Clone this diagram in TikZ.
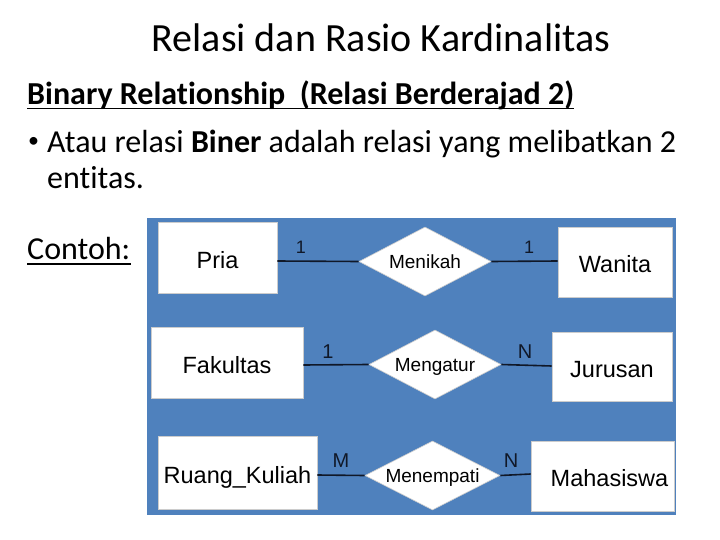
\documentclass[tikz,border=0pt]{standalone}
\usepackage{fontspec}
\setmainfont[Ligatures=NoCommon]{Carlito}
\newfontfamily\arialf{Liberation Sans}
\usetikzlibrary{shapes.geometric}
\definecolor{panel}{HTML}{4F81BD}
\definecolor{linkc}{HTML}{101828}
\tikzset{
  ent/.style={draw=gray!40, line width=0.6pt, fill=white, inner sep=0pt, text height=21.5pt, text depth=0pt, font=\arialf\fontsize{23.5}{26}\selectfont},
  rel/.style={diamond, draw=gray!40, line width=0.6pt, fill=white, inner sep=0pt, aspect=1.9, text height=14.5pt, text depth=0pt, font=\arialf\fontsize{19}{22}\selectfont},
  link/.style={draw=linkc, line width=1.6pt},
  card/.style={font=\arialf\fontsize{20}{22}\selectfont, text=linkc, inner sep=0pt},
  txt/.style={inner sep=0pt, anchor=base west},
  body/.style={txt, font=\fontsize{32}{36}\selectfont},
}
\begin{document}
\begin{tikzpicture}[x=1pt,y=-1pt]
\useasboundingbox (0,0) rectangle (720,540);
% title and text
\node[inner sep=0pt, anchor=base, font=\fontsize{40}{44}\selectfont] (title) at (381,52) {Relasi dan Rasio Kardinalitas};
\node[txt, font=\bfseries\fontsize{32}{36}\selectfont] (head) at (27,105) {Binary Relationship\ \ (Relasi Berderajad 2)};
\draw[line width=1.6pt] ([yshift=-3.5pt]head.base west) -- ([yshift=-3.5pt]head.base east);
\node[txt, font=\fontsize{22}{26}\selectfont] (bul) at (28,148) {•};
\node[body] (line1) at (47,153) {Atau relasi \textbf{Biner} adalah relasi yang melibatkan 2};
\node[body] (line2) at (47,189) {entitas.};
\node[body] (contoh) at (27,259) {Contoh:};
\draw[line width=1.4pt] ([yshift=-5pt]contoh.base west) -- ([yshift=-5pt]contoh.base east);
% panel
\fill[panel] (147,218) rectangle (676,515);
% row 1
\node[ent, minimum width=119pt, minimum height=71pt] (pria) at (217.5,257.5) {Pria};
\node[rel, minimum width=132pt, minimum height=69pt] (menikah) at (425,261.5) {Menikah};
\node[ent, minimum width=114pt, minimum height=70pt] (wanita) at (615,262) {Wanita};
\draw[link] (pria.east |- 0,261) -- (menikah.west);
\draw[link] (menikah.east) -- (wanita.west |- 0,261);
\node[card, font=\arialf\fontsize{18}{20}\selectfont] (c1a) at (301,247) {1};
\node[card, font=\arialf\fontsize{18}{20}\selectfont] (c1b) at (529,247) {1};
% row 2
\node[ent, minimum width=152pt, minimum height=71pt] (fak) at (227,362.5) {Fakultas};
\node[rel, minimum width=132pt, minimum height=69pt] (mengatur) at (435,364.5) {Mengatur};
\node[ent, minimum width=120pt, minimum height=69pt] (jur) at (612,366.5) {Jurusan};
\draw[link] (fak.east |- 0,365) -- (mengatur.west);
\draw[link] (mengatur.east) -- (jur.west |- 0,366);
\node[card] (c2a) at (328,352) {1};
\node[card] (c2b) at (525,352) {N};
% row 3
\node[ent, minimum width=159pt, minimum height=73pt] (ruang) at (237.5,472.5) {Ruang\_Kuliah};
\node[rel, minimum width=135pt, minimum height=69pt] (menempati) at (432.5,475.5) {Menempati};
\node[ent, minimum width=143pt, minimum height=70pt] (maha) at (602.5,476) {\hspace*{14pt}Mahasiswa};
\draw[link] (ruang.east |- 0,475) -- (menempati.west);
\draw[link] (menempati.east) -- (maha.west |- 0,474);
\node[card] (c3a) at (341,461) {M};
\node[card] (c3b) at (511,461) {N};
\end{tikzpicture}
\end{document}
